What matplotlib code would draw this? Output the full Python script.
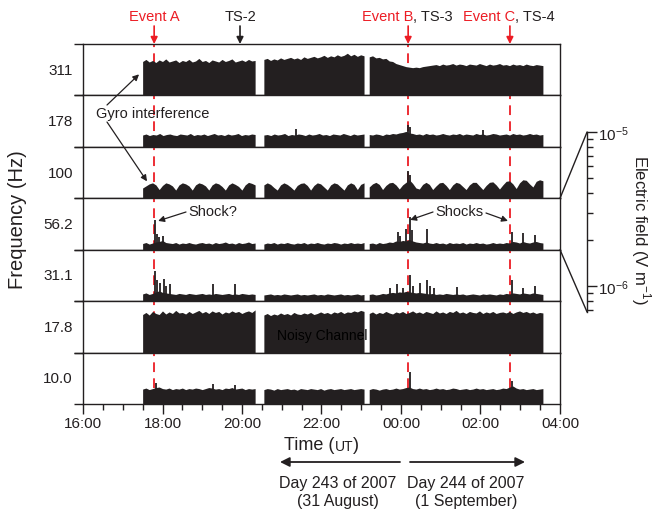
import numpy as np
import matplotlib
matplotlib.use('Agg')
import matplotlib.pyplot as plt
from matplotlib.patches import ConnectionPatch
from matplotlib.ticker import NullFormatter

plt.rcParams['font.family'] = ['Liberation Sans', 'DejaVu Sans']
plt.rcParams['mathtext.fontset'] = 'custom'
plt.rcParams['mathtext.rm'] = 'Liberation Sans'
plt.rcParams['lines.scale_dashes'] = False

INK = '#231f20'
RED = '#ec1c24'

# ---- data (time in hours after 00:00 of day 243; heights are fraction of panel) ----
channels = ['311', '178', '100', '56.2', '31.1', '17.8', '10.0']
segments = [(17.5, 20.33), (20.55, 23.07), (23.2, 27.57)]

ch311 = [
    [0.66, 0.70, 0.65, 0.68, 0.64, 0.69, 0.66, 0.71, 0.65, 0.67, 0.69, 0.64, 0.68, 0.66, 0.70, 0.65, 0.67, 0.72,
     0.66, 0.68, 0.64, 0.69, 0.67, 0.65, 0.70, 0.66, 0.68, 0.71, 0.65, 0.67, 0.69, 0.66, 0.70, 0.67, 0.68],
    [0.70, 0.72, 0.68, 0.71, 0.69, 0.73, 0.70, 0.72, 0.74, 0.71, 0.73, 0.70, 0.75, 0.72, 0.74, 0.76, 0.73, 0.75,
     0.78, 0.74, 0.77, 0.75, 0.79, 0.76, 0.78, 0.82, 0.77, 0.80, 0.76, 0.79, 0.77],
    [0.75, 0.77, 0.73, 0.74, 0.71, 0.72, 0.67, 0.66, 0.62, 0.60, 0.58, 0.56, 0.55, 0.54, 0.55, 0.54, 0.56, 0.57,
     0.58, 0.59, 0.60, 0.58, 0.61, 0.59, 0.60, 0.62, 0.59, 0.61, 0.60, 0.58, 0.61, 0.60, 0.59, 0.62, 0.60, 0.58,
     0.61, 0.59, 0.60, 0.62, 0.59, 0.60, 0.58, 0.61, 0.59, 0.60, 0.58, 0.61, 0.59, 0.58, 0.60, 0.59, 0.58],
]
ch178 = [
    [0.23, 0.25, 0.22, 0.24, 0.23, 0.26, 0.22, 0.24, 0.25, 0.23, 0.22, 0.25, 0.24, 0.23, 0.26, 0.22, 0.24, 0.23,
     0.25, 0.22, 0.24, 0.26, 0.23, 0.24, 0.22, 0.25, 0.23, 0.24, 0.26, 0.22, 0.24, 0.23, 0.25, 0.24],
    [0.23, 0.24, 0.22, 0.25, 0.23, 0.24, 0.26, 0.22, 0.24, 0.23, 0.25, 0.24, 0.22, 0.25, 0.23, 0.24, 0.26, 0.23,
     0.24, 0.22, 0.25, 0.24, 0.23, 0.26, 0.24, 0.22, 0.25, 0.23, 0.24, 0.25],
    [0.24, 0.23, 0.25, 0.24, 0.22, 0.25, 0.24, 0.26, 0.25, 0.27, 0.28, 0.30, 0.27, 0.26, 0.24, 0.25, 0.23, 0.26,
     0.24, 0.25, 0.23, 0.24, 0.26, 0.24, 0.23, 0.25, 0.24, 0.26, 0.23, 0.25, 0.24, 0.23, 0.26, 0.24, 0.25, 0.23,
     0.24, 0.26, 0.25, 0.23, 0.24, 0.25, 0.23, 0.26, 0.24, 0.25, 0.23, 0.24, 0.26, 0.24, 0.25, 0.23, 0.24],
]
ch100 = [
    [0.20, 0.24, 0.28, 0.30, 0.26, 0.17, 0.25, 0.30, 0.28, 0.24, 0.16, 0.26, 0.30, 0.28, 0.24, 0.16, 0.26, 0.30,
     0.28, 0.24, 0.16, 0.26, 0.30, 0.28, 0.23, 0.16, 0.26, 0.30, 0.27, 0.23, 0.16, 0.26, 0.31, 0.29, 0.26],
    [0.26, 0.30, 0.27, 0.21, 0.16, 0.26, 0.30, 0.27, 0.22, 0.16, 0.25, 0.29, 0.30, 0.25, 0.16, 0.25, 0.30, 0.28,
     0.22, 0.16, 0.26, 0.30, 0.28, 0.22, 0.16, 0.26, 0.30, 0.27, 0.17, 0.27, 0.30],
    [0.22, 0.28, 0.31, 0.27, 0.17, 0.25, 0.30, 0.31, 0.26, 0.18, 0.26, 0.31, 0.36, 0.29, 0.20, 0.18, 0.27, 0.31,
     0.27, 0.17, 0.24, 0.30, 0.31, 0.25, 0.17, 0.26, 0.31, 0.29, 0.23, 0.17, 0.26, 0.31, 0.31, 0.24, 0.17, 0.25,
     0.31, 0.32, 0.26, 0.18, 0.26, 0.33, 0.34, 0.28, 0.19, 0.30, 0.36, 0.35, 0.28, 0.22, 0.33, 0.36, 0.34],
]
ch56 = [
    [0.12, 0.14, 0.11, 0.13, 0.15, 0.16, 0.18, 0.14, 0.13, 0.12, 0.14, 0.11, 0.13, 0.12, 0.14, 0.12, 0.11, 0.13,
     0.14, 0.12, 0.13, 0.11, 0.14, 0.12, 0.13, 0.15, 0.12, 0.13, 0.11, 0.14, 0.12, 0.13, 0.15, 0.12, 0.13],
    [0.11, 0.13, 0.12, 0.14, 0.11, 0.13, 0.12, 0.14, 0.12, 0.11, 0.13, 0.12, 0.14, 0.11, 0.13, 0.12, 0.14, 0.12,
     0.11, 0.13, 0.12, 0.14, 0.13, 0.11, 0.13, 0.12, 0.14, 0.12, 0.13, 0.12, 0.14],
    [0.12, 0.13, 0.11, 0.14, 0.12, 0.13, 0.15, 0.14, 0.17, 0.16, 0.18, 0.17, 0.20, 0.17, 0.15, 0.14, 0.13, 0.15,
     0.13, 0.12, 0.14, 0.12, 0.13, 0.11, 0.14, 0.12, 0.13, 0.12, 0.14, 0.11, 0.13, 0.12, 0.14, 0.12, 0.13, 0.11,
     0.12, 0.14, 0.12, 0.13, 0.12, 0.14, 0.13, 0.16, 0.15, 0.13, 0.16, 0.14, 0.13, 0.15, 0.16, 0.14, 0.13],
]
ch31 = [
    [0.14, 0.16, 0.13, 0.15, 0.18, 0.20, 0.17, 0.16, 0.15, 0.14, 0.13, 0.15, 0.14, 0.13, 0.15, 0.14, 0.13, 0.14,
     0.15, 0.13, 0.14, 0.13, 0.15, 0.14, 0.13, 0.14, 0.15, 0.13, 0.14, 0.13, 0.15, 0.14, 0.13, 0.14, 0.13],
    [0.12, 0.13, 0.14, 0.12, 0.13, 0.12, 0.14, 0.13, 0.12, 0.13, 0.14, 0.12, 0.13, 0.12, 0.13, 0.14, 0.12, 0.13,
     0.12, 0.14, 0.13, 0.12, 0.13, 0.14, 0.12, 0.13, 0.12, 0.13, 0.14, 0.12, 0.13],
    [0.13, 0.14, 0.12, 0.13, 0.15, 0.14, 0.16, 0.17, 0.16, 0.18, 0.17, 0.19, 0.18, 0.17, 0.16, 0.17, 0.16, 0.15,
     0.14, 0.15, 0.13, 0.14, 0.13, 0.15, 0.14, 0.13, 0.14, 0.13, 0.14, 0.12, 0.13, 0.14, 0.13, 0.12, 0.14, 0.13,
     0.14, 0.13, 0.12, 0.14, 0.13, 0.15, 0.14, 0.16, 0.15, 0.14, 0.16, 0.15, 0.14, 0.16, 0.15, 0.14, 0.13],
]
ch17 = [
    [0.74, 0.78, 0.73, 0.80, 0.76, 0.74, 0.81, 0.75, 0.79, 0.76, 0.82, 0.77, 0.78, 0.75, 0.80, 0.76, 0.79, 0.82,
     0.77, 0.80, 0.76, 0.81, 0.78, 0.80, 0.75, 0.79, 0.77, 0.81, 0.78, 0.80, 0.76, 0.79, 0.81, 0.78, 0.83],
    [0.73, 0.76, 0.72, 0.75, 0.73, 0.77, 0.74, 0.76, 0.73, 0.78, 0.75, 0.74, 0.77, 0.75, 0.78, 0.74, 0.76, 0.79,
     0.76, 0.78, 0.75, 0.79, 0.77, 0.80, 0.76, 0.79, 0.78, 0.81, 0.79, 0.82, 0.80],
    [0.76, 0.79, 0.75, 0.78, 0.76, 0.80, 0.77, 0.75, 0.79, 0.77, 0.80, 0.76, 0.78, 0.81, 0.77, 0.79, 0.76, 0.80,
     0.78, 0.76, 0.81, 0.77, 0.79, 0.76, 0.80, 0.78, 0.82, 0.77, 0.79, 0.76, 0.80, 0.78, 0.77, 0.81, 0.76, 0.79,
     0.77, 0.80, 0.76, 0.78, 0.79, 0.77, 0.80, 0.76, 0.79, 0.81, 0.78, 0.80, 0.77, 0.79, 0.76, 0.78, 0.77],
]
ch10 = [
    [0.29, 0.31, 0.28, 0.30, 0.32, 0.33, 0.30, 0.29, 0.31, 0.28, 0.30, 0.29, 0.31, 0.28, 0.30, 0.29, 0.31, 0.30,
     0.28, 0.30, 0.32, 0.31, 0.29, 0.30, 0.28, 0.31, 0.30, 0.32, 0.29, 0.30, 0.31, 0.28, 0.30, 0.29, 0.30],
    [0.28, 0.30, 0.29, 0.27, 0.30, 0.28, 0.29, 0.30, 0.28, 0.29, 0.27, 0.30, 0.29, 0.28, 0.30, 0.29, 0.28, 0.30,
     0.27, 0.29, 0.30, 0.28, 0.29, 0.30, 0.28, 0.29, 0.30, 0.28, 0.29, 0.30, 0.29],
    [0.28, 0.30, 0.29, 0.27, 0.29, 0.30, 0.28, 0.29, 0.31, 0.29, 0.30, 0.32, 0.33, 0.30, 0.29, 0.31, 0.29, 0.30,
     0.28, 0.29, 0.31, 0.29, 0.30, 0.28, 0.29, 0.31, 0.30, 0.28, 0.29, 0.30, 0.28, 0.29, 0.31, 0.29, 0.30, 0.28,
     0.29, 0.30, 0.28, 0.29, 0.31, 0.30, 0.33, 0.35, 0.31, 0.29, 0.30, 0.28, 0.29, 0.30, 0.28, 0.29, 0.30],
]

# narrow spikes (time, height)
spk178_t = [21.36, 24.18, 24.22, 26.06]
spk178_h = [0.34, 0.43, 0.38, 0.33]
spk100_t = [24.18, 24.22]
spk100_h = [0.53, 0.45]
spk56_t = [17.81, 17.86, 17.92, 18.02, 23.92, 23.97, 24.13, 24.22, 24.27, 24.65, 26.79, 27.07, 27.37]
spk56_h = [0.57, 0.30, 0.25, 0.27, 0.34, 0.26, 0.40, 0.64, 0.38, 0.41, 0.34, 0.33, 0.28]
spk31_t = [17.81, 17.86, 17.93, 18.05, 18.10, 18.20, 19.27, 19.82, 23.72, 23.89, 24.05, 24.22, 24.30,
           24.48, 24.65, 24.72, 24.84, 25.42, 26.79, 27.07, 27.37]
spk31_h = [0.59, 0.42, 0.35, 0.44, 0.30, 0.33, 0.33, 0.33, 0.26, 0.33, 0.25, 0.50, 0.30,
           0.36, 0.42, 0.30, 0.25, 0.27, 0.42, 0.26, 0.29]
spk10_t = [17.84, 19.27, 19.82, 24.22, 26.79]
spk10_h = [0.40, 0.38, 0.36, 0.63, 0.45]

levels = [ch311, ch178, ch100, ch56, ch31, ch17, ch10]
spikes = [([], []), (spk178_t, spk178_h), (spk100_t, spk100_h), (spk56_t, spk56_h),
          (spk31_t, spk31_h), ([], []), (spk10_t, spk10_h)]

event_names = ['Event A', 'Event B', 'Event C']
event_ts = ['', ', TS-3', ', TS-4']
event_times = [17.79, 24.18, 26.74]
event_first_panel = [0, 0, 1]
ts2_time = 19.95

tick_hours = [16, 18, 20, 22, 24, 26, 28]
tick_labels = ['16:00', '18:00', '20:00', '22:00', '00:00', '02:00', '04:00']

# ---- layout (reference pixels) ----
W, H = 654, 510
fig = plt.figure(figsize=(W / 100, H / 100), dpi=100)


def fx(x):
    return x / W


def fy(y):
    return 1 - y / H


left, right, top, bottom = 83, 560, 45, 405
ph = (bottom - top) / 7

axes = []
for i in range(7):
    ax = fig.add_axes([fx(left), fy(top + (i + 1) * ph), (right - left) / W, ph / H])
    ax.set_xlim(16, 28)
    ax.set_ylim(0, 1)
    for s in ax.spines.values():
        s.set_linewidth(1.0)
        s.set_color(INK)
    ax.set_yticks([0, 1])
    ax.tick_params(axis='y', direction='out', length=6.5, width=1.0, color=INK, labelleft=False)
    if i < 6:
        ax.tick_params(axis='x', bottom=False, labelbottom=False)
    else:
        ax.set_xticks(tick_hours)
        ax.set_xticklabels(tick_labels)
        ax.set_xticks(np.arange(16, 28.01, 0.5), minor=True)
        ax.tick_params(axis='x', which='major', direction='out', length=7, width=1.0, color=INK,
                       labelsize=11, pad=2, labelcolor=INK)
        ax.tick_params(axis='x', which='minor', direction='out', length=4, width=1.0, color=INK)

    for vals, (t0, t1) in zip(levels[i], segments):
        t = np.linspace(t0, t1, len(vals))
        ax.fill_between(t, 0, vals, color=INK, lw=0, zorder=3)
    st, sh = spikes[i]
    if st:
        ax.vlines(st, 0, sh, color=INK, lw=1.3, zorder=3)

    for et, first in zip(event_times, event_first_panel):
        if i >= first:
            ax.axvline(et, color=RED, lw=1.3, dashes=(7, 4.5), zorder=2)

    ax.text(-0.021, 0.5, channels[i], transform=ax.transAxes, ha='right', va='center',
            fontsize=11, color=INK)
    axes.append(ax)

# ---- event markers on top ----
ax0 = axes[0]
tr = ax0.get_xaxis_transform()
arrow_y0 = 1 + (top - 27) / ph
label_y = 1 + (top - 17) / ph
for name, ts, et in zip(event_names, event_ts, event_times):
    ax0.annotate('', xy=(et, 1.0), xycoords=tr, xytext=(et, arrow_y0), textcoords=tr,
                 arrowprops=dict(arrowstyle='-|>', color=RED, lw=1.2, mutation_scale=10,
                                 shrinkA=0, shrinkB=0), annotation_clip=False)
    if ts:
        ax0.text(et + 0.13, label_y, name, transform=tr, color=RED, ha='right', va='center', fontsize=10.5)
        ax0.text(et + 0.13, label_y, ts, transform=tr, color=INK, ha='left', va='center', fontsize=10.5)
    else:
        ax0.text(et, label_y, name, transform=tr, color=RED, ha='center', va='center', fontsize=10.5)
ax0.annotate('', xy=(ts2_time, 1.0), xycoords=tr, xytext=(ts2_time, arrow_y0), textcoords=tr,
             arrowprops=dict(arrowstyle='-|>', color=INK, lw=1.2, mutation_scale=10, shrinkA=0, shrinkB=0),
             annotation_clip=False)
ax0.text(ts2_time, label_y, 'TS-2', transform=tr, color=INK, ha='center', va='center', fontsize=10.5)

# ---- annotations ----
arw = dict(arrowstyle='-|>', color=INK, lw=0.9, mutation_scale=9, shrinkA=0, shrinkB=0)
fig.text(fx(96), fy(114), 'Gyro interference', ha='left', va='center', fontsize=10.5, color=INK)
fig.add_artist(matplotlib.text.Annotation('', xy=(17.41, 0.41), xycoords=axes[0].transData,
                                          xytext=(fx(107), fy(106)), textcoords='figure fraction',
                                          arrowprops=arw))
fig.add_artist(matplotlib.text.Annotation('', xy=(17.61, 0.33), xycoords=axes[2].transData,
                                          xytext=(fx(107), fy(123)), textcoords='figure fraction',
                                          arrowprops=arw))
fig.text(fx(188), fy(212), 'Shock?', ha='left', va='center', fontsize=10.5, color=INK)
fig.add_artist(matplotlib.text.Annotation('', xy=(17.89, 0.56), xycoords=axes[3].transData,
                                          xytext=(fx(186), fy(213)), textcoords='figure fraction',
                                          arrowprops=arw))
fig.text(fx(435), fy(212), 'Shocks', ha='left', va='center', fontsize=10.5, color=INK)
fig.add_artist(matplotlib.text.Annotation('', xy=(24.23, 0.58), xycoords=axes[3].transData,
                                          xytext=(fx(433), fy(213)), textcoords='figure fraction',
                                          arrowprops=arw))
fig.add_artist(matplotlib.text.Annotation('', xy=(26.69, 0.56), xycoords=axes[3].transData,
                                          xytext=(fx(486), fy(214)), textcoords='figure fraction',
                                          arrowprops=arw))
axes[5].text(20.88, 0.35, 'Noisy Channel', ha='left', va='center', fontsize=10, color='black', zorder=5)

# ---- axis labels ----
fig.text(fx(18), fy(220), 'Frequency (Hz)', rotation=90, ha='center', va='center', fontsize=14.5, color=INK)
t1 = fig.text(fx(284), fy(446), 'Time (', ha='left', va='center', fontsize=13, color=INK)
t2 = fig.add_artist(matplotlib.text.Annotation('UT', xy=(1, 0), xycoords=t1, ha='left', va='bottom',
                                               fontsize=10, color=INK))
fig.add_artist(matplotlib.text.Annotation(')', xy=(1, 0), xycoords=t2, ha='left', va='bottom',
                                          fontsize=13, color=INK))

big = dict(arrowstyle='-|>', color=INK, lw=1.3, mutation_scale=14, shrinkA=0, shrinkB=0)
fig.add_artist(matplotlib.text.Annotation('', xy=(fx(280), fy(463)), xycoords='figure fraction',
                                          xytext=(fx(400), fy(463)), textcoords='figure fraction',
                                          arrowprops=big))
fig.add_artist(matplotlib.text.Annotation('', xy=(fx(525), fy(463)), xycoords='figure fraction',
                                          xytext=(fx(410), fy(463)), textcoords='figure fraction',
                                          arrowprops=big))
fig.text(fx(338), fy(484), 'Day 243 of 2007', ha='center', va='center', fontsize=11.5, color=INK)
fig.text(fx(338), fy(502), '(31 August)', ha='center', va='center', fontsize=11.5, color=INK)
fig.text(fx(466), fy(484), 'Day 244 of 2007', ha='center', va='center', fontsize=11.5, color=INK)
fig.text(fx(466), fy(502), '(1 September)', ha='center', va='center', fontsize=11.5, color=INK)

# ---- electric field scale for the 56.2 Hz channel ----
axE = fig.add_axes([fx(587), fy(313), 0.0001, (313 - 133) / H])
axE.set_yscale('log')
axE.set_ylim(6.8e-7, 1e-5)
for k in ['top', 'bottom', 'left']:
    axE.spines[k].set_visible(False)
axE.spines['right'].set_linewidth(1.0)
axE.spines['right'].set_color(INK)
axE.patch.set_visible(False)
axE.set_xticks([])
axE.yaxis.set_ticks_position('right')
axE.set_yticks([1e-6, 1e-5])
axE.yaxis.set_minor_formatter(NullFormatter())
axE.tick_params(axis='y', which='major', direction='out', length=7, width=1.0, color=INK,
                labelsize=11, pad=1, labelcolor=INK)
axE.tick_params(axis='y', which='minor', direction='out', length=4, width=1.0, color=INK)
for xa, xb in [((1, 1), (1, 1)), ((1, 0), (1, 0))]:
    fig.add_artist(ConnectionPatch(xyA=xa, coordsA=axes[3].transAxes, xyB=xb, coordsB=axE.transAxes,
                                   color=INK, lw=1.0))
fig.text(fx(641), fy(230), 'Electric field (V m$^{-1}$)', rotation=270, ha='center', va='center',
         fontsize=12, color=INK)

fig.savefig('out.png', dpi=100)
